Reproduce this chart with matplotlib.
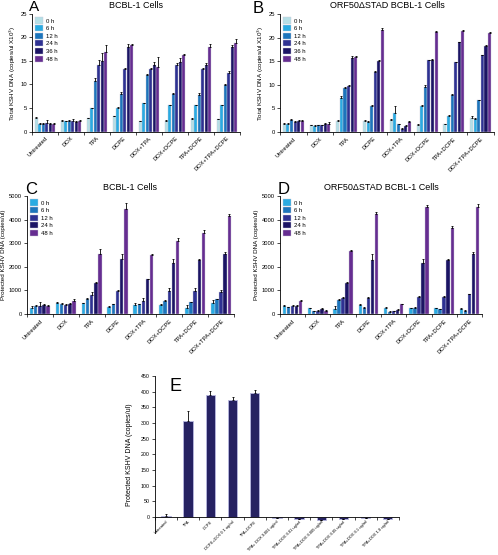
import numpy as np
import matplotlib
matplotlib.use("Agg")
import matplotlib.pyplot as plt
from matplotlib.patches import Patch

# ── Data ──────────────────────────────────
treatments = ["Untreated", "DOX", "TPA", "DCPE", "DOX+TPA", "DOX+DCPE",
              "TPA+DCPE", "DOX+TPA+DCPE"]

hours_ab = ["0 h", "6 h", "12 h", "24 h", "36 h", "48 h"]
hours_cd = ["0 h", "6 h", "12 h", "24 h", "48 h"]

# Panel A: total KSHV DNA, BCBL-1 (rows = treatments, cols = hours)
a_vals = [[2.8, 1.7, 1.7, 1.8, 1.5, 1.6],
          [2.3, 2.2, 2.2, 2.3, 2.1, 2.3],
          [2.8, 5.0, 10.8, 14.2, 15.0, 17.0],
          [3.2, 5.1, 8.0, 13.2, 18.0, 18.3],
          [2.2, 6.0, 12.0, 13.2, 14.2, 13.8],
          [2.3, 5.6, 7.9, 14.1, 14.7, 16.2],
          [2.7, 5.6, 7.7, 13.2, 14.1, 17.9],
          [2.6, 5.6, 9.8, 12.5, 18.0, 18.9]]
a_err = [[0.2, 0.1, 0.1, 0.6, 0.4, 0.3],
         [0.1, 0.1, 0.3, 0.3, 0.2, 0.2],
         [0.1, 0.1, 0.5, 1.0, 1.7, 1.3],
         [0.1, 0.1, 0.3, 0.3, 0.5, 0.3],
         [0.1, 0.1, 0.2, 0.3, 0.6, 2.0],
         [0.1, 0.1, 0.3, 0.4, 1.0, 0.3],
         [0.1, 0.1, 0.4, 0.3, 0.4, 0.8],
         [0.1, 0.1, 0.2, 0.3, 0.4, 0.8]]

# Panel B: total KSHV DNA, ORF50dSTAD BCBL-1
b_vals = [[1.8, 1.8, 2.6, 2.2, 2.4, 2.4],
          [1.5, 1.3, 1.4, 1.4, 1.7, 1.7],
          [2.4, 7.3, 9.4, 9.8, 15.7, 15.8],
          [2.3, 2.2, 5.6, 12.7, 15.0, 21.5],
          [2.5, 4.1, 1.7, 0.7, 1.2, 2.2],
          [1.6, 5.6, 9.5, 15.2, 15.3, 21.1],
          [1.7, 3.3, 7.8, 14.8, 19.0, 21.4],
          [3.0, 2.8, 6.7, 16.2, 18.3, 21.0]]
b_err = [[0.1, 0.1, 0.1, 0.1, 0.2, 0.2],
         [0.1, 0.1, 0.1, 0.1, 0.3, 0.4],
         [0.1, 0.4, 0.2, 0.2, 0.3, 0.2],
         [0.2, 0.1, 0.2, 0.2, 0.2, 0.5],
         [0.2, 1.5, 0.1, 0.1, 0.2, 0.1],
         [0.2, 0.2, 0.4, 0.1, 0.1, 0.2],
         [0.1, 0.3, 0.2, 0.1, 0.1, 0.2],
         [0.4, 0.1, 0.1, 0.1, 0.1, 0.1]]

# Panel C: protected KSHV DNA, BCBL-1
c_vals = [[280, 340, 340, 370, 340],
          [480, 440, 380, 410, 550],
          [450, 660, 790, 1310, 2560],
          [300, 410, 990, 2320, 4450],
          [380, 410, 550, 1470, 2490],
          [370, 540, 990, 2180, 3110],
          [240, 500, 990, 2290, 3450],
          [470, 620, 930, 2530, 4150]]
c_err = [[70, 40, 180, 40, 30],
         [50, 30, 40, 40, 70],
         [40, 30, 150, 30, 200],
         [40, 30, 40, 230, 260],
         [80, 30, 130, 30, 60],
         [40, 40, 100, 170, 120],
         [140, 30, 100, 30, 100],
         [120, 40, 100, 100, 100]]

# Panel D: protected KSHV DNA, ORF50dSTAD BCBL-1
d_vals = [[340, 300, 340, 350, 550],
          [240, 130, 140, 210, 140],
          [210, 590, 680, 1330, 2670],
          [370, 280, 690, 2300, 4220],
          [280, 110, 130, 180, 420],
          [240, 270, 720, 2180, 4520],
          [240, 200, 730, 2290, 3630],
          [210, 150, 850, 2530, 4520]]
d_err = [[40, 20, 30, 40, 40],
         [20, 20, 30, 40, 20],
         [150, 40, 50, 30, 50],
         [40, 20, 40, 250, 120],
         [40, 20, 20, 30, 20],
         [30, 40, 50, 160, 80],
         [30, 20, 20, 30, 80],
         [30, 20, 20, 100, 150]]

# Panel E
e_labels = ["Untreated", "TPA", "DCPE", "DCPE+DOX 0.1 ug/ml", "TPA+DCPE",
            "TPA+ DOX 0.001 ug/ml", "TPA+DOX 0.01 ug/ml", "TPA+DOX 0.005 ug/ml",
            "TPA+DOX 0.05 ug/ml", "TPA+DOX 0.1 ug/ml", "TPA+DOX 1.0 ug/ml"]
e_vals = [2, 305, 391, 372, 396, -4, -5, -10, -6, -3, -5]
e_err = [8, 35, 10, 10, 8, 0, 0, 0, 0, 0, 0]

# ── Style ─────────────────────────────────
colors_ab = ["#b5dfe6", "#29abe2", "#1c75bc", "#2e3192", "#1b1464", "#662d91"]
colors_cd = ["#29abe2", "#1c75bc", "#2e3192", "#1b1464", "#662d91"]

plt.rcParams["font.family"] = "Liberation Sans"
fig = plt.figure(figsize=(4.98, 5.55), dpi=100)


def grouped(ax, vals, errs, colors, labels, ymax, ystep, ylabel, title):
    vals = np.array(vals, dtype=float)
    errs = np.array(errs, dtype=float)
    n_groups, n_series = vals.shape
    width = 0.8 / n_series
    x = np.arange(n_groups)
    for j in range(n_series):
        xs = x - 0.4 + width * (j + 0.5)
        ax.bar(xs, vals[:, j], width * 0.85, color=colors[j],
               edgecolor="#c8c8d8", linewidth=0.3, label=labels[j])
        ax.errorbar(xs, vals[:, j], yerr=[np.zeros(n_groups), errs[:, j]],
                    fmt="none", ecolor="black", elinewidth=0.6, capsize=0.8,
                    capthick=0.6)
    ax.set_xlim(-0.5, n_groups - 0.5)
    ax.set_ylim(0, ymax)
    ax.set_yticks(np.arange(0, ymax + 1e-9, ystep))
    ax.set_xticks(np.arange(-0.5, n_groups, 1.0))
    ax.set_xticklabels([])
    ax.set_xticks(x, minor=True)
    ax.set_xticklabels(treatments, minor=True, rotation=45, ha="right",
                       rotation_mode="anchor", fontsize=4.2)
    ax.tick_params(axis="x", which="minor", length=0, pad=3)
    ax.tick_params(axis="x", which="major", length=2, width=0.5)
    ax.tick_params(axis="y", labelsize=4.2, length=2, width=0.5, pad=1.5)
    for s in ["top", "right"]:
        ax.spines[s].set_visible(False)
    for s in ["left", "bottom"]:
        ax.spines[s].set_linewidth(0.6)
    ax.set_ylabel(ylabel, fontsize=4.5, labelpad=2)
    ax.set_title(title, fontsize=6.5, pad=4)
    handles = [Patch(facecolor=c, edgecolor="#c8c8d8", linewidth=0.3)
               for c in colors]
    ax.legend(handles, labels, loc="upper left", bbox_to_anchor=(0.0, 1.0),
              frameon=False, fontsize=4.3, handlelength=1.2, handleheight=1.2,
              handletextpad=0.5, labelspacing=0.25, borderaxespad=0.2)


ylab_tot = "Total KSHV DNA (copies/ul X10$^3$)"
ylab_prot = "Protected KSHV DNA (copies/ul)"

# ── Panels A-D ────────────────────────────
axA = fig.add_axes([0.064, 0.763, 0.418, 0.212])
grouped(axA, a_vals, a_err, colors_ab, hours_ab, 25, 5, ylab_tot, "BCBL-1 Cells")
axB = fig.add_axes([0.562, 0.762, 0.43, 0.213])
grouped(axB, b_vals, b_err, colors_ab, hours_ab, 25, 5, ylab_tot,
        "ORF50\u0394STAD BCBL-1 Cells")
axC = fig.add_axes([0.054, 0.434, 0.416, 0.213])
grouped(axC, c_vals, c_err, colors_cd, hours_cd, 5000, 1000, ylab_prot,
        "BCBL-1 Cells")
axD = fig.add_axes([0.562, 0.434, 0.406, 0.213])
grouped(axD, d_vals, d_err, colors_cd, hours_cd, 5000, 1000, ylab_prot,
        "ORF50\u0394STAD BCBL-1 Cells")

fig.text(0.058, 1.0, "A", fontsize=11, va="top")
fig.text(0.508, 0.998, "B", fontsize=12, va="top")
fig.text(0.05, 0.672, "C", fontsize=12, va="top")
fig.text(0.557, 0.672, "D", fontsize=12, va="top")

# ── Panel E ───────────────────────────────
axE = fig.add_axes([0.311, 0.04, 0.49, 0.2825])
xe = np.arange(len(e_vals))
axE.bar(xe, e_vals, 0.42, color="#262262", edgecolor="#b8b8e0", linewidth=0.6)
axE.errorbar(xe, e_vals, yerr=[np.zeros(len(e_vals)), e_err], fmt="none",
             ecolor="black", elinewidth=0.6, capsize=0.8, capthick=0.6)
axE.set_xlim(-0.5, len(e_vals) - 0.5)
axE.set_ylim(-50, 450)
axE.set_yticks(np.arange(0, 451, 50))
axE.spines["bottom"].set_position(("data", 0))
for s in ["top", "right"]:
    axE.spines[s].set_visible(False)
for s in ["left", "bottom"]:
    axE.spines[s].set_linewidth(0.6)
axE.set_xticks(np.arange(-0.5, len(e_vals), 1.0))
axE.set_xticklabels([])
axE.set_xticks(xe, minor=True)
axE.set_xticklabels(e_labels, minor=True, rotation=45, ha="right",
                    rotation_mode="anchor", fontsize=2.9)
axE.tick_params(axis="x", which="minor", length=0, pad=2)
axE.tick_params(axis="x", which="major", length=2, width=0.5)
axE.tick_params(axis="y", labelsize=3.8, length=2, width=0.5, pad=1.5)
axE.set_ylabel(ylab_prot, fontsize=5, labelpad=6)
axE.text(0.06, 0.99, "E", transform=axE.transAxes, fontsize=13, va="top")

fig.savefig("out.png", dpi=100)
